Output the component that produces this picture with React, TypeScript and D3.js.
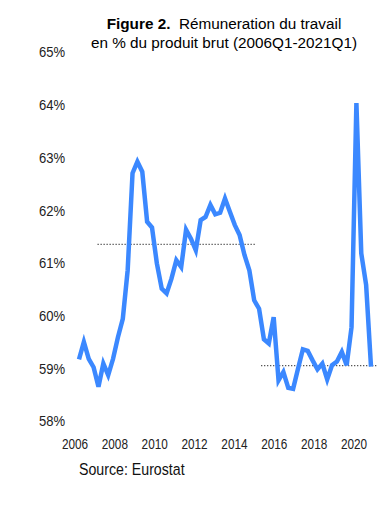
import { scaleLinear, line } from "d3";

const width = 387;
const height = 514;

// quarterly share, 2006Q1 .. 2021Q1
const startYear = 2006;
const values = [
  59.17, 59.5, 59.18, 59.02, 58.65, 59.09, 58.87, 59.18,
  59.59, 59.94, 60.86, 62.7, 62.92, 62.73, 61.78, 61.67,
  60.99, 60.51, 60.42, 60.7, 61.05, 60.92, 61.63, 61.46,
  61.24, 61.81, 61.87, 62.1, 61.92, 61.95, 62.22, 61.97,
  61.72, 61.53, 61.15, 60.86, 60.29, 60.13, 59.55, 59.47,
  59.97, 58.77, 58.93, 58.63, 58.61, 58.99, 59.36, 59.33,
  59.15, 58.98, 59.09, 58.79, 59.06, 59.13, 59.31, 59.06,
  59.78, 64.03, 61.18, 60.58, 59.03,
];

// dotted average lines: [from, to, level]
const averages: [number, number, number][] = [
  [2006.95, 2015.05, 61.35],
  [2015.35, 2021.35, 59.05],
];

const yTicks = [58, 59, 60, 61, 62, 63, 64, 65];
const xTicks = [2006, 2008, 2010, 2012, 2014, 2016, 2018, 2020];

// no condensed face installed: squeeze a regular one horizontally
const narrow = "'Liberation Sans', Arial, sans-serif";
const titleFont = "'Liberation Sans', Arial, sans-serif";

const App = () => {
  const x = scaleLinear().domain([2006, 2021]).range([79, 371]);
  const xLabel = scaleLinear().domain([2006, 2020]).range([75, 354]);
  const y = scaleLinear().domain([58, 65]).range([421, 52]);

  const path = line<number>()
    .x((_, i) => x(startYear + i / 4))
    .y((d) => y(d));

  return (
    <svg
      width={width}
      height={height}
      style={{ position: "absolute", left: 0, top: 0, background: "#fff" }}
    >
      <text
        x={224}
        y={29}
        textAnchor="middle"
        fontFamily={titleFont}
        fontSize={15.3}
        fill="#000"
      >
        <tspan fontWeight="bold">Figure 2.</tspan>
        <tspan>{"\u00a0 Rémuneration du travail"}</tspan>
      </text>
      <text
        x={224}
        y={48}
        textAnchor="middle"
        fontFamily={titleFont}
        fontSize={15.3}
        fill="#000"
      >
        en % du produit brut (2006Q1-2021Q1)
      </text>

      {yTicks.map((t) => (
        <g key={t} transform={`translate(65,${y(t)}) scale(0.87,1)`}>
          <text
            dy="0.36em"
            textAnchor="end"
            fontFamily={narrow}
            fontSize={15}
            fill="#222"
          >
            {t}%
          </text>
        </g>
      ))}

      {xTicks.map((t) => (
        <g key={t} transform={`translate(${xLabel(t)},443) scale(0.76,1)`}>
          <text
            dy="0.36em"
            textAnchor="middle"
            fontFamily={narrow}
            fontSize={15.5}
            fill="#222"
          >
            {t}
          </text>
        </g>
      ))}

      {averages.map(([a, b, v], i) => (
        <line
          key={i}
          x1={x(a)}
          x2={x(b)}
          y1={y(v)}
          y2={y(v)}
          stroke="#555"
          strokeWidth={1.3}
          strokeDasharray="1.3 1.7"
        />
      ))}

      <path
        d={path(values)!}
        fill="none"
        stroke="#3b88ff"
        strokeWidth={4.5}
        strokeLinejoin="miter"
      />

      <g transform="translate(79,475) scale(0.86,1)">
        <text fontFamily={narrow} fontSize={16.5} fill="#111">
          Source: Eurostat
        </text>
      </g>
    </svg>
  );
};

export default App;
